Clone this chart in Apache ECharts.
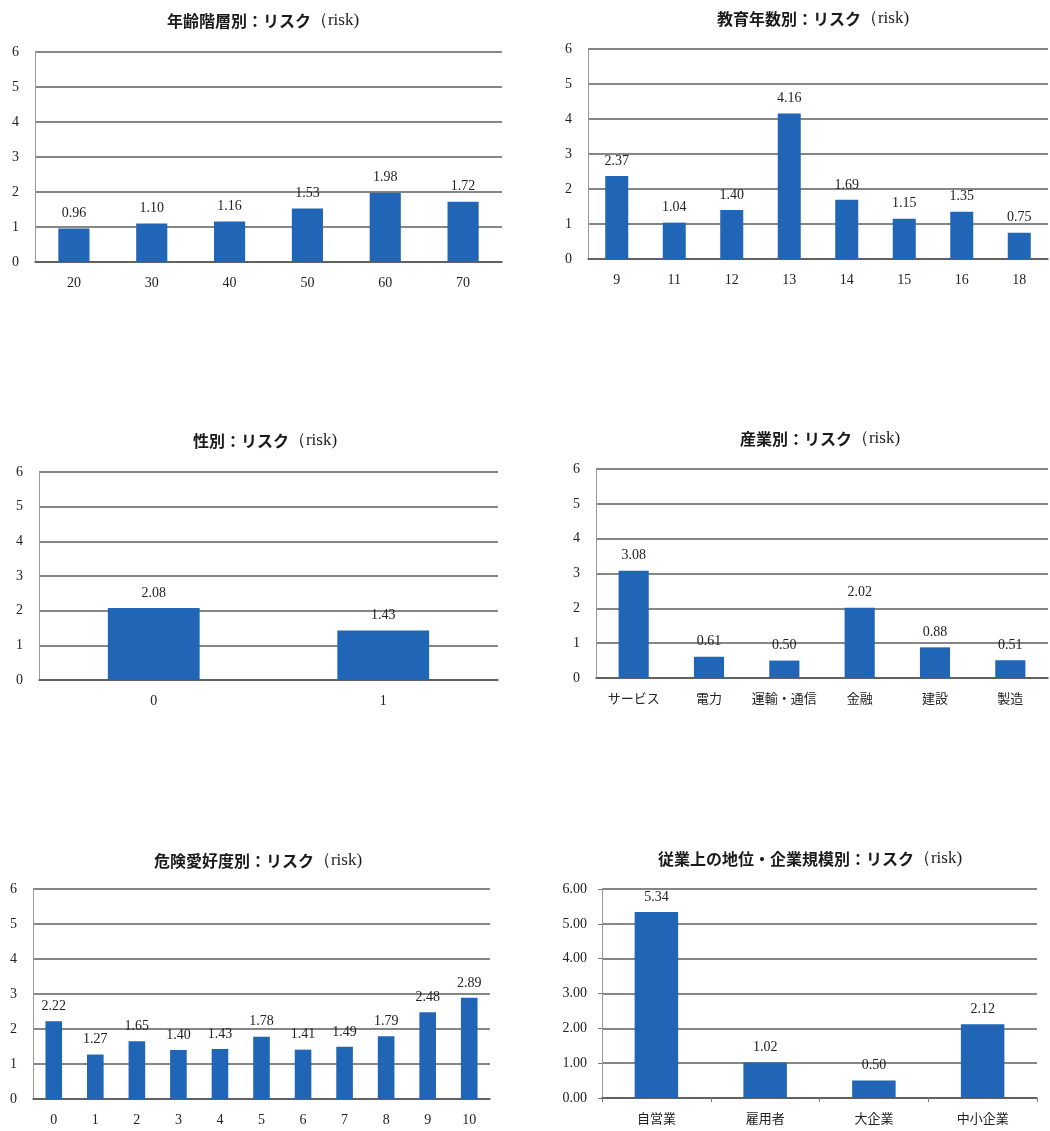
<!DOCTYPE html>
<html>
<head>
<meta charset="utf-8">
<script src="https://cdn.jsdelivr.net/npm/echarts@6/dist/echarts.min.js"></script>
<style>
  html, body { margin: 0; padding: 0; background: #ffffff; }
  #main { width: 1050px; height: 1131px; }
</style>
</head>
<body>
<div id="main"></div>
<script>
// 年齢階層別
const ageCats = ['20', '30', '40', '50', '60', '70'];
const ageRisk = [0.96, 1.10, 1.16, 1.53, 1.98, 1.72];
// 教育年数別
const eduCats = ['9', '11', '12', '13', '14', '15', '16', '18'];
const eduRisk = [2.37, 1.04, 1.40, 4.16, 1.69, 1.15, 1.35, 0.75];
// 性別
const sexCats = ['0', '1'];
const sexRisk = [2.08, 1.43];
// 産業別
const indCats = ['サービス', '電力', '運輸・通信', '金融', '建設', '製造'];
const indRisk = [3.08, 0.61, 0.50, 2.02, 0.88, 0.51];
// 危険愛好度別
const prefCats = ['0', '1', '2', '3', '4', '5', '6', '7', '8', '9', '10'];
const prefRisk = [2.22, 1.27, 1.65, 1.40, 1.43, 1.78, 1.41, 1.49, 1.79, 2.48, 2.89];
// 従業上の地位・企業規模別
const statusCats = ['自営業', '雇用者', '大企業', '中小企業'];
const statusRisk = [5.34, 1.02, 0.50, 2.12];

const titles = ['年齢階層別：リスク', '教育年数別：リスク', '性別：リスク',
                '産業別：リスク', '危険愛好度別：リスク', '従業上の地位・企業規模別：リスク'];

const panels = [
  { cats: ageCats, vals: ageRisk, grid: { left: 35, top: 52, width: 467, height: 210 }, title: [258, 7], jp: false, dec: false },
  { cats: eduCats, vals: eduRisk, grid: { left: 588, top: 49, width: 460, height: 210 }, title: [808, 5], jp: false, dec: false },
  { cats: sexCats, vals: sexRisk, grid: { left: 39, top: 472, width: 459, height: 208 }, title: [260, 427], jp: false, dec: false },
  { cats: indCats, vals: indRisk, grid: { left: 596, top: 469, width: 452, height: 209 }, title: [815, 425], jp: true, dec: false },
  { cats: prefCats, vals: prefRisk, grid: { left: 33, top: 889, width: 457, height: 210 }, title: [253, 847], jp: false, dec: false },
  { cats: statusCats, vals: statusRisk, grid: { left: 602, top: 889, width: 435, height: 209 }, title: [805, 845], jp: true, dec: true }
];

const serif = '"Liberation Serif", "DejaVu Serif", serif';
const gothic = '"Noto Sans CJK JP", "Noto Sans", sans-serif';
const barColor = '#2166b6';

const option = {
  backgroundColor: '#ffffff',
  animation: false,
  title: [],
  grid: [],
  xAxis: [],
  yAxis: [],
  series: []
};

panels.forEach((p, i) => {
  option.title.push({
    text: '{a|' + titles[i] + '}{b|（risk)}',
    left: p.title[0],
    top: p.title[1],
    textAlign: 'center',
    textStyle: {
      fontWeight: 'normal',
      rich: {
        a: { fontFamily: gothic, fontWeight: 'bold', fontSize: 16, color: '#1a1a1a' },
        b: { fontFamily: serif, fontWeight: 'normal', fontSize: 17, color: '#1a1a1a' }
      }
    }
  });
  option.grid.push(Object.assign({ containLabel: false }, p.grid));
  option.xAxis.push({
    type: 'category',
    gridIndex: i,
    data: p.cats,
    axisLine: { show: true, lineStyle: { color: '#555', width: 1.5 } },
    axisTick: { show: p.dec, alignWithLabel: false, length: 4, lineStyle: { color: '#777' } },
    axisLabel: {
      interval: 0,
      margin: 14,
      color: '#222',
      fontFamily: p.jp ? gothic : serif,
      fontSize: p.jp ? 13 : 14
    }
  });
  option.yAxis.push({
    type: 'value',
    gridIndex: i,
    min: 0,
    max: 6,
    interval: 1,
    axisLine: { show: true, lineStyle: { color: '#999', width: 1 } },
    axisTick: { show: p.dec, length: 4, lineStyle: { color: '#777' } },
    splitLine: { show: true, lineStyle: { color: '#5e5e5e', width: 1.5 } },
    axisLabel: {
      margin: p.dec ? 15 : 16,
      color: '#222',
      fontFamily: serif,
      fontSize: 14,
      formatter: v => p.dec ? v.toFixed(2) : String(v)
    }
  });
  option.series.push({
    type: 'bar',
    xAxisIndex: i,
    yAxisIndex: i,
    data: p.vals,
    barWidth: '40%',
    itemStyle: { color: barColor },
    label: {
      show: true,
      position: 'top',
      distance: 8,
      color: '#222',
      fontFamily: serif,
      fontSize: 14,
      formatter: d => d.value.toFixed(2)
    }
  });
});

const chart = echarts.init(document.getElementById('main'), null, { renderer: 'canvas' });
chart.setOption(option);
</script>
</body>
</html>
